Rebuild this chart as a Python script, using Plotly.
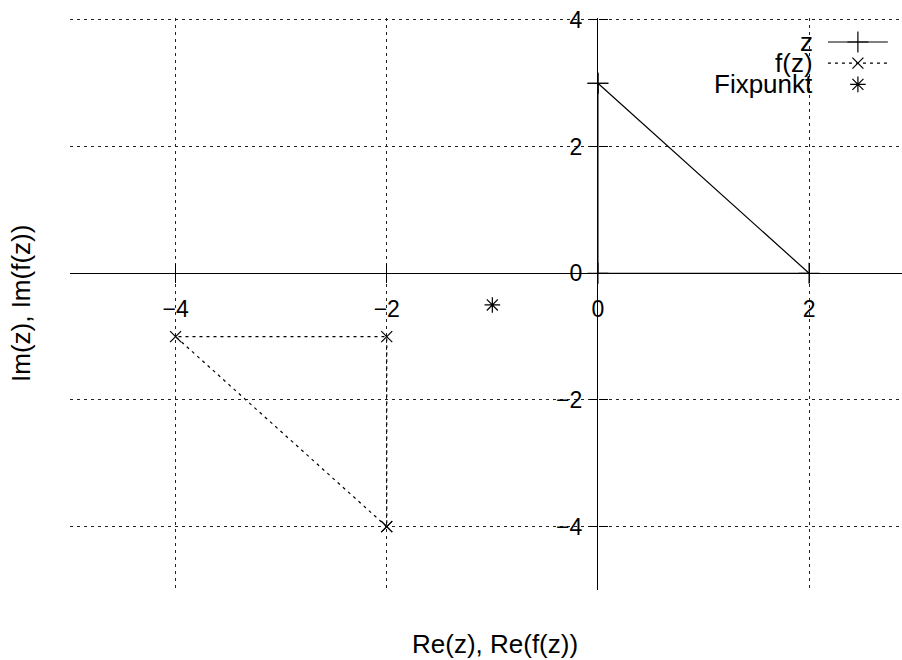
import plotly.graph_objects as go

# Triangle z (closed) and its image under f(z) = -z - 2 - i
z_re = [0, 2, 0, 0]
z_im = [3, 0, 0, 3]
fz_re = [-2, -4, -2, -2]
fz_im = [-4, -1, -1, -4]
fix_re = [-1]
fix_im = [-0.5]

x_range = [-5, 2.88]
y_range = [-5, 4.03]
tick_vals_x = [-4, -2, 0, 2]
tick_vals_y = [-4, -2, 0, 2, 4]

FONT = "Liberation Sans, Arial, sans-serif"
DASH = "3px,4px"
LW = 1.2

fig = go.Figure()

fig.add_trace(go.Scatter(
    x=z_re, y=z_im, mode="lines+markers", name="z",
    line=dict(color="black", width=LW),
    marker=dict(symbol="cross-thin", size=15, line=dict(color="black", width=LW)),
    showlegend=False,
))
fig.add_trace(go.Scatter(
    x=fz_re, y=fz_im, mode="lines+markers", name="f(z)",
    line=dict(color="black", width=LW, dash=DASH),
    marker=dict(symbol="x-thin", size=11, line=dict(color="black", width=LW)),
    showlegend=False,
))
fig.add_trace(go.Scatter(
    x=fix_re, y=fix_im, mode="markers", name="Fixpunkt",
    marker=dict(symbol="asterisk", size=13, line=dict(color="black", width=LW)),
    showlegend=False,
))

# position axes through the origin
x_pos = (0 - y_range[0]) / (y_range[1] - y_range[0])
y_pos = (0 - x_range[0]) / (x_range[1] - x_range[0])

# invisible trace to carry the mirrored tick axes
fig.add_trace(go.Scatter(x=[x_range[0]], y=[y_range[0]], xaxis="x2", yaxis="y2",
                         mode="markers", marker=dict(opacity=0), showlegend=False,
                         hoverinfo="skip"))

TICKLEN = 9
common = dict(showline=False, tickcolor="black", ticklen=TICKLEN, tickwidth=1,
              tickfont=dict(family=FONT, size=23, color="black"))

fig.update_layout(
    width=902, height=660,
    margin=dict(l=70, r=0, t=18, b=70),
    plot_bgcolor="white", paper_bgcolor="white",
    showlegend=False,
    xaxis=dict(range=x_range, tickvals=tick_vals_x, ticks="outside",
               anchor="free", position=x_pos, ticklabelstandoff=6,
               showgrid=True, gridcolor="#222", griddash=DASH, gridwidth=1,
               zeroline=True, zerolinecolor="black", zerolinewidth=LW, **common),
    yaxis=dict(range=y_range, tickvals=tick_vals_y, ticks="outside",
               anchor="free", position=y_pos, ticklabelstandoff=2,
               showgrid=True, gridcolor="#222", griddash=DASH, gridwidth=1,
               zeroline=True, zerolinecolor="black", zerolinewidth=LW, **common),
    xaxis2=dict(range=x_range, tickvals=tick_vals_x, ticks="inside", overlaying="x",
                anchor="free", position=x_pos, showticklabels=False, showgrid=False,
                zeroline=False, showline=False, tickcolor="black", ticklen=TICKLEN),
    yaxis2=dict(range=y_range, tickvals=tick_vals_y, ticks="inside", overlaying="y",
                anchor="free", position=y_pos, showticklabels=False, showgrid=False,
                zeroline=False, showline=False, tickcolor="black", ticklen=TICKLEN),
    xaxis3=dict(range=[0, 1], overlaying="x", visible=False),
    yaxis3=dict(range=[0, 1], overlaying="y", visible=False),
)

# axis titles
fig.add_annotation(text="Re(z), Re(f(z))", xref="paper", yref="paper", x=0.511, y=0,
                   xanchor="center", yanchor="middle", yshift=-54, showarrow=False,
                   font=dict(family=FONT, size=26, color="black"))
fig.add_annotation(text="Im(z), Im(f(z))", xref="paper", yref="paper", x=0, y=0.5,
                   xanchor="center", yanchor="middle", xshift=-49, textangle=-90,
                   showarrow=False, font=dict(family=FONT, size=26, color="black"))

# key in the upper right corner
legend_rows = [("z", "solid", "cross-thin", 15, 0.958),
               ("f(z)", DASH, "x-thin", 11, 0.921),
               ("Fixpunkt", None, "asterisk", 13, 0.884)]
for label, dash, sym, size, yy in legend_rows:
    fig.add_annotation(text=label, xref="paper", yref="paper", x=0.895, y=yy,
                       xanchor="right", yanchor="middle", showarrow=False,
                       font=dict(family=FONT, size=26, color="black"))
    if dash is not None:
        fig.add_shape(type="line", xref="paper", yref="paper", x0=0.911, x1=0.983,
                      y0=yy, y1=yy, line=dict(color="black", width=LW, dash=dash))
    fig.add_trace(go.Scatter(x=[0.947], y=[yy], xaxis="x3", yaxis="y3", mode="markers",
                             marker=dict(symbol=sym, size=size,
                                         line=dict(color="black", width=LW)),
                             showlegend=False, hoverinfo="skip"))

fig.write_html("out.html")
